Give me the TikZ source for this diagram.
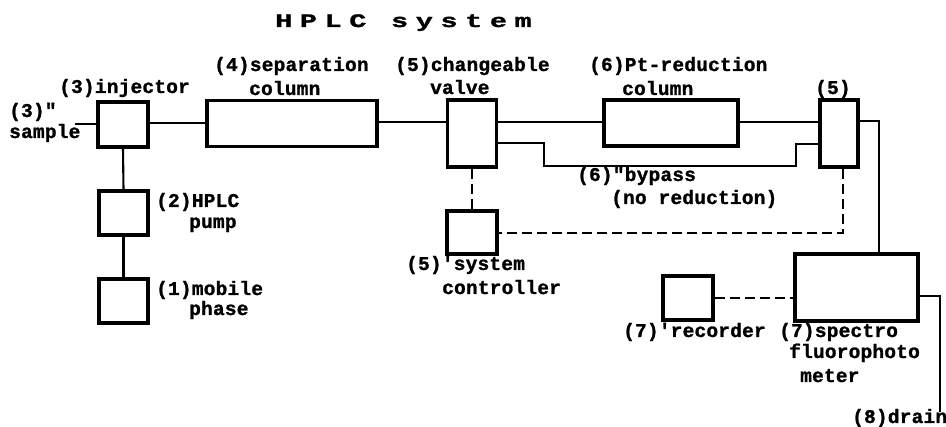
\documentclass[tikz,border=0pt]{standalone}
\usepackage{fontspec}
\newfontfamily\labfont[LetterSpace=1,FakeBold=1.2]{Liberation Mono Bold}
\newfontfamily\titlefont[LetterSpace=40,FakeStretch=1.5,FakeBold=1.5]{Liberation Mono Bold}
\begin{document}
\begin{tikzpicture}[x=1pt,y=-1pt,
  box/.style={draw,line width=3.4pt,inner sep=0pt},
  pipe/.style={line width=2.1pt},
  ctl/.style={line width=1.8pt,dash pattern=on 10pt off 5pt},
  lab/.style={anchor=base west,inner sep=0pt,font=\labfont\fontsize{19.5}{22}\selectfont},
  ttl/.style={anchor=base west,inner sep=0pt,font=\titlefont\fontsize{19}{22}\selectfont}]
\useasboundingbox (0,0) rectangle (946,427);
% boxes
\node[box,minimum width=50pt,minimum height=45pt] (inj) at (123,124.5) {};
\node[box,minimum width=49pt,minimum height=44pt] (pump) at (123.5,213) {};
\node[box,minimum width=49pt,minimum height=44pt] (mob) at (123.5,301) {};
\node[box,minimum width=170pt,minimum height=46pt] (col) at (292,123.5) {};
\node[box,minimum width=49pt,minimum height=67pt] (valve) at (472,133.5) {};
\node[box,minimum width=134pt,minimum height=46pt] (ptcol) at (671,123) {};
\node[box,minimum width=38pt,minimum height=67pt] (valvetwo) at (839,133.5) {};
\node[box,minimum width=50pt,minimum height=43pt] (ctrl) at (472,232.5) {};
\node[box,minimum width=123pt,minimum height=67pt] (spec) at (856.5,287.5) {};
\node[box,minimum width=50pt,minimum height=44pt] (rec) at (688,298) {};
% free ends
\coordinate (samplein) at (75,124);
\coordinate (drain) at (940,412);
% pipes
\draw[pipe] (samplein) -- (samplein -| inj.west);
\draw[pipe] (inj.east |- 0,123) -- (col.west |- 0,123);
\draw[pipe] (inj.south) -- (pump.north);
\draw[pipe] (pump.south) -- (mob.north);
\draw[pipe] (col.east |- 0,122) -- (valve.west |- 0,122);
\draw[pipe] (valve.east |- 0,122) -- (ptcol.west |- 0,122);
\draw[pipe] (ptcol.east |- 0,122) -- (valvetwo.west |- 0,122);
\draw[pipe] (valve.east |- 0,143) -- (544,143) -- (544,166) -- (796,166) -- (796,144) -- (valvetwo.west |- 0,144);
\draw[pipe] (valvetwo.east |- 0,121) -- (879,121) -- (spec.north -| 879,0);
\draw[pipe] (spec.east |- 0,296) -- (940,296) -- (drain);
% control lines
\draw[ctl] (valve.south) -- (ctrl.north);
\draw[ctl] (valvetwo.south -| 843,0) -- (843,233) -- (ctrl.east |- 0,233);
\draw[ctl] (rec.east) -- (spec.west |- rec.east);
% labels
\node[ttl] (title) at (275,27) {HPLC system};
\node[lab] (linj) at (59,93) {(3)injector};
\node[lab] (lsamp) at (9,117) {(3)"};
\node[lab] (lsampb) at (9,138) {sample};
\node[lab] (lsep) at (214,71) {(4)separation};
\node[lab] (lsepb) at (249,95) {column};
\node[lab] (lval) at (395,71) {(5)changeable};
\node[lab] (lvalb) at (430,94) {valve};
\node[lab] (lpt) at (589,71) {(6)Pt-reduction};
\node[lab] (lptb) at (622,95) {column};
\node[lab] (lvtwo) at (815,94) {(5)};
\node[lab] (lbyp) at (577,181) {(6)"bypass};
\node[lab] (lbypb) at (611,204) {(no reduction)};
\node[lab] (lpump) at (156,207) {(2)HPLC};
\node[lab] (lpumpb) at (189,228) {pump};
\node[lab] (lmob) at (156,295) {(1)mobile};
\node[lab] (lmobb) at (189,315) {phase};
\node[lab] (lctrl) at (406,270) {(5)'system};
\node[lab] (lctrlb) at (442,294) {controller};
\node[lab] (lrec) at (623,337) {(7)'recorder};
\node[lab] (lspec) at (779,337) {(7)spectro};
\node[lab] (lspecb) at (789,358) {fluorophoto};
\node[lab] (lspecc) at (800,382) {meter};
\node[lab] (ldrain) at (852,423) {(8)drain};
\end{tikzpicture}
\end{document}
